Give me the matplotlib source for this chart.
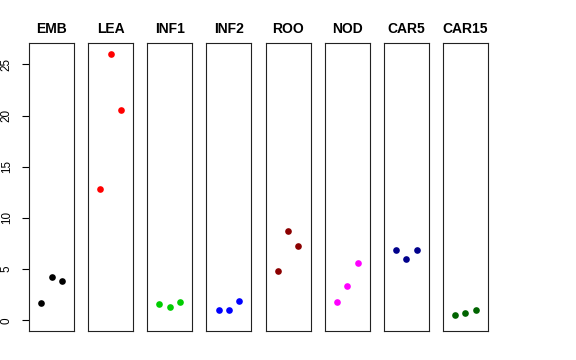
import matplotlib
matplotlib.use("Agg")
import matplotlib.pyplot as plt

plt.rcParams['font.family'] = ['Liberation Sans', 'DejaVu Sans']

categories = ["EMB", "LEA", "INF1", "INF2", "ROO", "NOD", "CAR5", "CAR15"]
values = {
    "EMB":   [1.66, 4.26, 3.87],
    "LEA":   [12.79, 26.04, 20.57],
    "INF1":  [1.56, 1.27, 1.76],
    "INF2":  [1.04, 0.98, 1.88],
    "ROO":   [4.81, 8.75, 7.26],
    "NOD":   [1.82, 3.35, 5.57],
    "CAR5":  [6.87, 5.96, 6.89],
    "CAR15": [0.55, 0.74, 1.04],
}
colors = ["#000000", "#FF0000", "#00CD00", "#0000FF", "#8B0000", "#FF00FF", "#00008B", "#006400"]
reps = [1, 2, 3]
yticks = [0, 5, 10, 15, 20, 25]

W, H = 576, 360
fig = plt.figure(figsize=(W / 100, H / 100), dpi=100)

ymax = max(max(v) for v in values.values())
ylo, yhi = 0 - 0.04 * ymax, ymax * 1.04
xlo, xhi = 0 - 0.16, 4 + 0.16

left0, step, width = 29, 59.14, 45
top, bottom = 43, 331
for i, (cat, col) in enumerate(zip(categories, colors)):
    l = left0 + i * step
    ax = fig.add_axes([l / W, 1 - bottom / H, width / W, (bottom - top) / H])
    ax.plot(reps, values[cat], 'o', color=col, markersize=4.8, markeredgewidth=0)
    ax.set_xlim(xlo, xhi)
    ax.set_ylim(ylo, yhi)
    ax.set_xticks([])
    for s in ax.spines.values():
        s.set_linewidth(0.8)
        s.set_color("#222222")
    ax.set_title(cat, fontsize=10, fontweight='bold', pad=7)
    if i == 0:
        ax.set_yticks(yticks)
        ax.set_yticklabels([str(t) for t in yticks], rotation=90, va='center', fontsize=8.4)
        ax.tick_params(axis='y', length=5.2, width=0.8, pad=6.5)
    else:
        ax.set_yticks([])

fig.savefig("out.png", dpi=100)
